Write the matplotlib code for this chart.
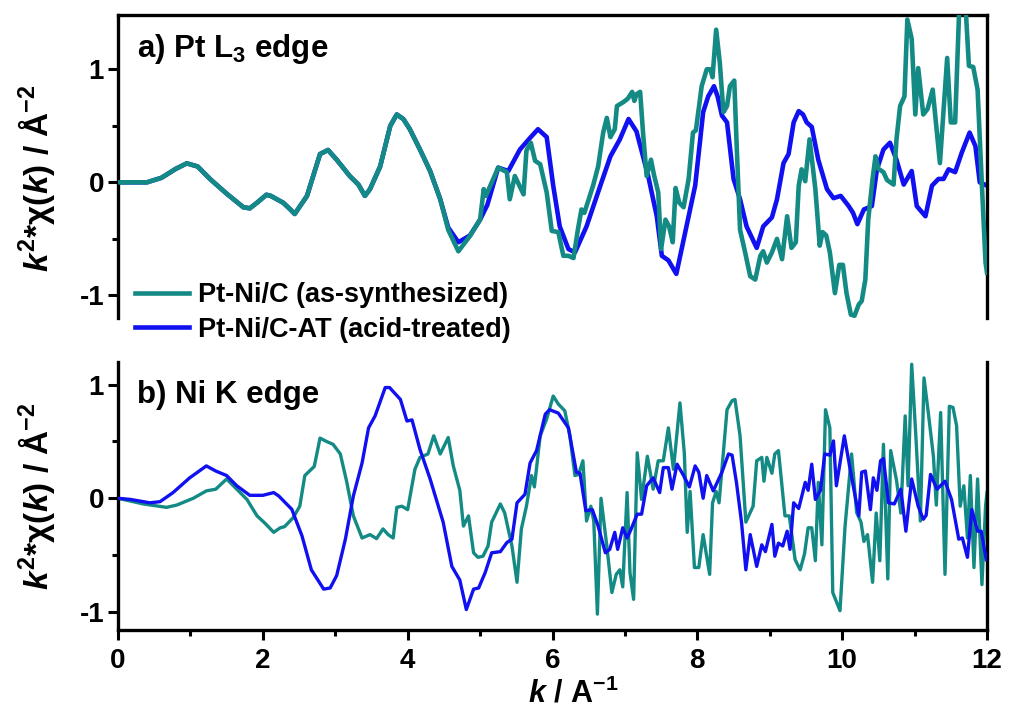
import numpy as np
import matplotlib
matplotlib.use("Agg")
import matplotlib.pyplot as plt
from matplotlib.ticker import MultipleLocator

plt.rcParams['font.family'] = ['Liberation Sans', 'DejaVu Sans']
plt.rcParams['font.weight'] = 'bold'
plt.rcParams['mathtext.fontset'] = 'custom'
plt.rcParams['mathtext.rm'] = 'Liberation Sans:bold'
plt.rcParams['mathtext.bf'] = 'Liberation Sans:bold'
plt.rcParams['mathtext.it'] = 'Liberation Sans:italic:bold'

# ---- a) Pt L3 edge ----
# both samples overlap up to k ~ 4.45
pt_k_common = [0, 0.2, 0.4, 0.6, 0.8, 0.95, 1.1, 1.27, 1.5, 1.73, 1.82, 1.92, 2.05, 2.11,
               2.28, 2.38, 2.44, 2.61, 2.79, 2.90, 3.02, 3.2, 3.32, 3.41, 3.48, 3.62, 3.76,
               3.85, 3.94, 4.03, 4.17, 4.31, 4.45]
pt_chi_common = [0, 0, 0, 0.04, 0.12, 0.168, 0.14, 0.03, -0.10, -0.22, -0.23, -0.18, -0.11, -0.12,
                 -0.18, -0.24, -0.28, -0.12, 0.25, 0.286, 0.2, 0.056, -0.02, -0.12, -0.06, 0.14, 0.50,
                 0.60, 0.56, 0.47, 0.29, 0.10, -0.15]

pt_k_asyn = [4.56, 4.70, 4.86, 5.0, 5.05, 5.08, 5.25, 5.37, 5.41, 5.48, 5.6, 5.64, 5.70, 5.76,
             5.83, 5.92, 5.99, 6.08, 6.15, 6.22, 6.29, 6.35, 6.40, 6.44, 6.56, 6.63, 6.70, 6.75,
             6.80, 6.86, 6.89, 6.98, 7.04, 7.10, 7.13, 7.16, 7.21, 7.25, 7.30, 7.36, 7.40, 7.46,
             7.5, 7.56, 7.61, 7.66, 7.70, 7.75, 7.81, 7.88, 7.94, 7.98, 8.06, 8.13, 8.18, 8.21,
             8.26, 8.31, 8.36, 8.41, 8.45, 8.51, 8.54, 8.59, 8.66, 8.73, 8.80, 8.87, 8.91, 8.96,
             9.03, 9.10, 9.17, 9.24, 9.30, 9.36, 9.40, 9.44, 9.49, 9.55, 9.63, 9.69, 9.73, 9.78,
             9.83, 9.90, 9.96, 10.01, 10.06, 10.12, 10.17, 10.23, 10.27, 10.32, 10.36, 10.42,
             10.46, 10.50, 10.57, 10.62, 10.71, 10.75, 10.80, 10.86, 10.90, 10.96, 11.01, 11.05,
             11.12, 11.18, 11.25, 11.35, 11.45, 11.50, 11.56, 11.62, 11.70, 11.75, 11.81, 11.87,
             11.93, 11.98, 12.0]
pt_chi_asyn = [-0.42, -0.61, -0.475, -0.33, -0.06, -0.12, 0.13, 0.09, -0.15, 0.056, -0.106, 0.28,
               0.35, 0.19, 0.16, -0.09, -0.43, -0.44, -0.65, -0.65, -0.67, -0.42, -0.24, -0.27,
               -0.03, 0.14, 0.44, 0.57, 0.40, 0.47, 0.675, 0.71, 0.74, 0.80, 0.72, 0.78, 0.80, 0.44,
               0.056, 0.2, 0.07, -0.09, -0.59, -0.33, -0.39, -0.53, -0.05, -0.18, -0.22, 0.03, 0.44,
               0.46, 0.85, 1.0, 1.0, 0.93, 1.35, 1.06, 0.62, 0.675, 0.85, 0.90, 0.38, -0.42, -0.62,
               -0.83, -0.86, -0.65, -0.61, -0.71, -0.62, -0.50, -0.68, -0.30, -0.58, -0.53, -0.03,
               0.115, 0.01, 0.38, -0.06, -0.56, -0.44, -0.47, -0.62, -0.98, -0.73, -0.73, -0.98,
               -1.17, -1.18, -1.08, -1.05, -0.86, -0.33, 0.03, 0.23, 0.12, 0.09, 0.02, -0.02, 0.38,
               0.675, 0.76, 1.44, 1.27, 0.60, 1.01, 0.60, 0.65, 0.82, 0.17, 1.10, 0.53, 0.53, 1.6,
               1.6, 1.03, 1.02, 0.82, -0.03, -0.71, -0.8]

pt_k_at = [4.56, 4.70, 4.86, 5.0, 5.10, 5.25, 5.39, 5.55, 5.70, 5.80, 5.92, 6.01, 6.10, 6.22,
           6.31, 6.47, 6.66, 6.80, 6.93, 7.05, 7.16, 7.32, 7.44, 7.51, 7.60, 7.71, 7.85, 7.97,
           8.04, 8.08, 8.15, 8.23, 8.28, 8.34, 8.41, 8.50, 8.59, 8.68, 8.82, 8.91, 8.97, 9.03,
           9.10, 9.19, 9.26, 9.33, 9.40, 9.46, 9.51, 9.58, 9.67, 9.79, 9.88, 9.98, 10.09, 10.15,
           10.21, 10.30, 10.41, 10.48, 10.57, 10.66, 10.75, 10.85, 10.96, 11.03, 11.15, 11.24,
           11.33, 11.40, 11.47, 11.56, 11.65, 11.76, 11.84, 11.90, 12.0]
pt_chi_at = [-0.40, -0.53, -0.47, -0.33, -0.2, 0.13, 0.10, 0.29, 0.40, 0.47, 0.40, -0.03, -0.39,
             -0.59, -0.62, -0.39, -0.03, 0.23, 0.38, 0.56, 0.45, 0.06, -0.30, -0.65, -0.69, -0.81,
             -0.39, -0.03, 0.38, 0.62, 0.76, 0.85, 0.76, 0.59, 0.53, 0.03, -0.15, -0.39, -0.58,
             -0.39, -0.35, -0.31, -0.15, 0.17, 0.25, 0.53, 0.63, 0.60, 0.53, 0.49, 0.2, -0.06,
             -0.14, -0.12, -0.21, -0.27, -0.37, -0.24, -0.21, 0.115, 0.29, 0.35, 0.2, -0.02, 0.10,
             -0.21, -0.30, -0.03, 0.03, 0.03, 0.115, 0.09, 0.26, 0.44, 0.32, 0.0, -0.03]

# ---- b) Ni K edge ----
ni_k_asyn = [0, 0.35, 0.67, 0.81, 1.04, 1.22, 1.35, 1.50, 1.64, 1.78, 1.92, 2.03, 2.15, 2.24, 2.30,
             2.42, 2.51, 2.58, 2.71, 2.79, 2.88, 2.97, 3.07, 3.16, 3.25, 3.37, 3.48, 3.57, 3.66,
             3.73, 3.80, 3.85, 3.92, 4.0, 4.10, 4.17, 4.28, 4.36, 4.45, 4.56, 4.63, 4.72, 4.77,
             4.84, 4.91, 4.97, 5.04, 5.11, 5.16, 5.28, 5.34, 5.44, 5.51, 5.57, 5.64, 5.71, 5.75,
             5.83, 5.92, 6.01, 6.08, 6.17, 6.24, 6.31, 6.36, 6.42, 6.47, 6.53, 6.57, 6.62, 6.67,
             6.75, 6.82, 6.88, 6.93, 6.97, 7.03, 7.07, 7.12, 7.17, 7.23, 7.31, 7.39, 7.46, 7.53,
             7.60, 7.67, 7.76, 7.82, 7.86, 7.90, 7.96, 8.02, 8.08, 8.17, 8.21, 8.26, 8.30, 8.41,
             8.48, 8.52, 8.59, 8.67, 8.77, 8.82, 8.89, 8.92, 8.96, 9.03, 9.07, 9.12, 9.21, 9.27,
             9.35, 9.42, 9.48, 9.53, 9.58, 9.63, 9.67, 9.72, 9.77, 9.83, 9.87, 9.97, 10.04, 10.13,
             10.20, 10.26, 10.30, 10.35, 10.42, 10.47, 10.52, 10.57, 10.63, 10.67, 10.75, 10.81,
             10.87, 10.91, 10.96, 11.02, 11.08, 11.13, 11.19, 11.26, 11.30, 11.36, 11.42, 11.48,
             11.53, 11.58, 11.63, 11.68, 11.73, 11.77, 11.82, 11.87, 11.93, 11.98, 12.0]
ni_chi_asyn = [0, -0.05, -0.08, -0.06, 0.0, 0.065, 0.08, 0.17, 0.08, -0.01, -0.155, -0.22, -0.30,
               -0.26, -0.25, -0.17, -0.07, 0.2, 0.28, 0.53, 0.50, 0.475, 0.39, 0.14, -0.155, -0.35,
               -0.32, -0.355, -0.27, -0.32, -0.35, -0.08, -0.07, -0.10, 0.255, 0.36, 0.39, 0.55,
               0.39, 0.535, 0.285, 0.07, -0.245, -0.155, -0.48, -0.52, -0.51, -0.42, -0.21, -0.05,
               -0.13, -0.42, -0.74, -0.27, -0.07, 0.2, 0.1, 0.55, 0.70, 0.90, 0.83, 0.77, 0.55, 0.2,
               0.21, 0.33, -0.2, -0.07, -0.2, -1.02, 0.0, -0.42, -0.83, -0.67, -0.63, -0.78, 0.05,
               -0.655, -0.89, 0.40, -0.01, 0.37, 0.08, 0.33, 0.33, 0.62, 0.255, 0.84, 0.40, -0.30,
               0.06, -0.61, -0.61, -0.32, -0.67, -0.04, 0.06, -0.04, 0.78, 0.86, 0.87, 0.55, -0.21,
               -0.07, 0.33, 0.36, 0.15, 0.36, 0.22, 0.39, 0.42, -0.155, -0.155, -0.54, -0.63, -0.49,
               -0.26, -0.26, -0.55, 0.14, -0.41, 0.78, 0.62, -0.83, -0.99, -0.245, 0.39, -0.125,
               -0.21, -0.38, -0.32, -0.74, -0.13, -0.55, 0.475, -0.71, 0.42, 0.16, -0.13, 0.725,
               0.11, 1.18, 0.52, -0.2, 1.06, 0.75, 0.37, -0.06, 0.755, -0.67, 0.81, 0.80, 0.64,
               -0.07, 0.11, -0.35, 0.2, -0.61, 0.17, -0.76, -0.07, 0.05]

ni_k_at = [0, 0.17, 0.44, 0.58, 0.76, 0.99, 1.22, 1.35, 1.50, 1.64, 1.82, 2.0, 2.15, 2.22, 2.40,
           2.54, 2.67, 2.84, 2.93, 3.02, 3.14, 3.25, 3.37, 3.46, 3.55, 3.69, 3.75, 3.90, 3.99,
           4.06, 4.17, 4.31, 4.49, 4.61, 4.72, 4.81, 4.91, 4.98, 5.07, 5.16, 5.28, 5.37, 5.44,
           5.51, 5.62, 5.69, 5.78, 5.90, 5.96, 6.08, 6.22, 6.33, 6.38, 6.46, 6.55, 6.63, 6.73,
           6.79, 6.86, 6.90, 6.97, 7.03, 7.08, 7.17, 7.23, 7.30, 7.39, 7.48, 7.53, 7.60, 7.65,
           7.72, 7.81, 7.89, 7.97, 8.02, 8.08, 8.13, 8.22, 8.34, 8.43, 8.48, 8.54, 8.61, 8.67,
           8.73, 8.82, 8.89, 8.94, 9.03, 9.07, 9.12, 9.18, 9.24, 9.28, 9.33, 9.40, 9.49, 9.53,
           9.58, 9.63, 9.70, 9.76, 9.83, 9.88, 9.92, 10.03, 10.11, 10.23, 10.27, 10.32, 10.39,
           10.43, 10.48, 10.53, 10.57, 10.64, 10.72, 10.81, 10.88, 10.96, 11.05, 11.12, 11.16,
           11.22, 11.31, 11.42, 11.51, 11.61, 11.66, 11.73, 11.79, 11.87, 11.92, 11.99]
ni_chi_at = [0, -0.01, -0.04, -0.03, 0.05, 0.18, 0.285, 0.24, 0.2, 0.11, 0.026, 0.026, 0.05, 0.02,
             -0.097, -0.33, -0.63, -0.80, -0.79, -0.68, -0.36, 0.02, 0.31, 0.62, 0.725, 0.975,
             0.975, 0.87, 0.68, 0.69, 0.43, 0.17, -0.21, -0.60, -0.72, -0.98, -0.80, -0.79,
             -0.655, -0.48, -0.47, -0.39, -0.36, -0.04, 0.035, 0.31, 0.42, 0.74, 0.78, 0.75, 0.62,
             0.23, 0.22, -0.11, -0.10, -0.245, -0.48, -0.45, -0.30, -0.45, -0.26, -0.35, -0.28,
             -0.14, -0.14, 0.11, 0.18, 0.05, 0.27, 0.27, 0.08, 0.30, 0.2, 0.1, 0.285, 0.23, 0.0,
             0.2, 0.065, 0.23, 0.39, 0.38, 0.14, -0.21, -0.63, -0.32, -0.60, -0.41, -0.47, -0.23,
             -0.51, -0.395, -0.42, -0.29, -0.45, -0.04, -0.09, 0.14, 0.07, 0.30, -0.01, 0.07, 0.39,
             0.38, 0.505, 0.11, 0.55, 0.255, -0.155, 0.23, 0.24, -0.1, 0.18, 0.07, 0.33, 0.35,
             -0.04, -0.05, 0.08, -0.29, 0.17, -0.07, -0.185, -0.15, 0.21, 0.08, 0.15, -0.01, -0.36,
             -0.35, -0.52, -0.1, -0.29, -0.29, -0.54]

labels = ['Pt-Ni/C (as-synthesized)', 'Pt-Ni/C-AT (acid-treated)']
teal = '#138a84'
blue = '#1010f0'

fig = plt.figure(figsize=(10.1, 7.14), dpi=100)
# axes placed in pixel terms of the 1010x714 canvas
ax1 = fig.add_axes([118 / 1010, 1 - 318 / 714, 869 / 1010, 303 / 714])
ax2 = fig.add_axes([118 / 1010, 1 - 630 / 714, 869 / 1010, 268 / 714])

ax1.plot(pt_k_common + pt_k_at, pt_chi_common + pt_chi_at, color=blue, lw=3.3, label=labels[1], zorder=2)
ax1.plot(pt_k_common + pt_k_asyn, pt_chi_common + pt_chi_asyn, color=teal, lw=3.3, label=labels[0], zorder=3)
ax2.plot(ni_k_asyn, ni_chi_asyn, color=teal, lw=2.4, zorder=2)
ax2.plot(ni_k_at, ni_chi_at, color=blue, lw=2.4, zorder=3)

ax1.set_xlim(0, 12)
ax1.set_ylim(-1.2, 1.48)
ax2.set_xlim(0, 12)
ax2.set_ylim(-1.16, 1.2)

for ax in (ax1, ax2):
    for s in ax.spines.values():
        s.set_linewidth(2.4)
    ax.yaxis.set_minor_locator(MultipleLocator(0.5))
    ax.tick_params(axis='y', which='major', direction='out', length=7, width=2.2, labelsize=20, pad=3)
    ax.tick_params(axis='y', which='minor', direction='out', length=4.5, width=2.2)
    ax.set_yticks([-1, 0, 1])
    ax.set_yticklabels(['-1', '0', '1'], fontweight='bold')

ax1.spines['bottom'].set_visible(False)
ax1.tick_params(axis='x', which='both', bottom=False, labelbottom=False)
ax2.spines['top'].set_visible(False)
ax2.xaxis.set_minor_locator(MultipleLocator(1))
ax2.tick_params(axis='x', which='major', direction='out', length=7, width=2.2, labelsize=20, pad=6)
ax2.tick_params(axis='x', which='minor', direction='out', length=4.5, width=2.2)
ax2.set_xticks([0, 2, 4, 6, 8, 10, 12])
ax2.set_xticklabels(['0', '2', '4', '6', '8', '10', '12'], fontweight='bold')

ylab = r'$k^2$*χ($k$) / Å$^{-2}$'
ax1.set_ylabel(ylab, fontsize=24, fontweight='bold')
ax2.set_ylabel(ylab, fontsize=24, fontweight='bold')
ax1.yaxis.set_label_coords(-0.07, 0.46)
ax2.yaxis.set_label_coords(-0.07, 0.50)
ax2.set_xlabel(r'$k$ / A$^{-1}$', fontsize=22, fontweight='bold')
ax2.xaxis.label.set_va('baseline')
ax2.xaxis.set_label_coords(0.524, -0.272)

ax1.text(0.022, 0.861, r'a) Pt L$_3$ edge', transform=ax1.transAxes, fontsize=22.5,
         fontweight='bold', va='baseline')
ax2.text(0.022, 0.847, 'b) Ni K edge', transform=ax2.transAxes, fontsize=22.5,
         fontweight='bold', va='baseline')

h, l = ax1.get_legend_handles_labels()
ax1.legend(h[::-1], l[::-1], loc='center left', bbox_to_anchor=(0.0196, 0.018), frameon=False,
           borderpad=0, borderaxespad=0, handlelength=2.0, handletextpad=0.33, labelspacing=0.3,
           prop={'weight': 'bold', 'size': 19.5})

fig.savefig('out.png', dpi=100)
